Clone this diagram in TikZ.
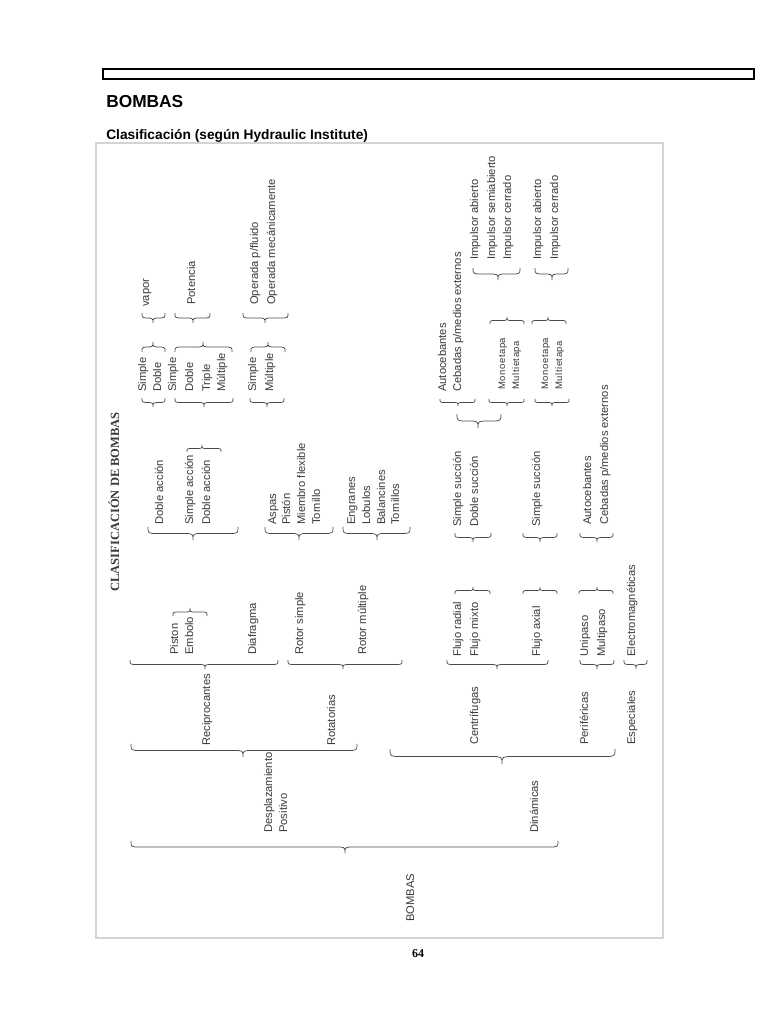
\documentclass[tikz,border=0pt]{standalone}
\usepackage{fontspec}
\setmainfont{Liberation Serif}
\newfontfamily\dfont{Liberation Sans}
\newfontfamily\dsfont[LetterSpace=6]{Liberation Sans}
\newfontfamily\hfont{Liberation Sans}
\newfontfamily\pfont{Liberation Serif}
\definecolor{txtgray}{HTML}{3A3A3A}
\definecolor{bracegray}{HTML}{4A4A4A}
\definecolor{framegray}{HTML}{D4D4D4}
\tikzset{
  lbl/.style={rotate=90, anchor=base west, inner sep=0pt, text=txtgray,
    font=\dfont\fontsize{8.4}{10}\selectfont},
  lbls/.style={lbl, font=\dsfont\fontsize{7.1}{9}\selectfont},
  brcline/.style={draw=bracegray, line width=0.55pt},
  head/.style={anchor=base west, inner sep=0pt, font=\hfont\bfseries\fontsize{13}{15}\selectfont},
  subhead/.style={anchor=base west, inner sep=0pt, font=\hfont\bfseries\fontsize{10.3}{12}\selectfont},
}
% brace: x1, x2, y of ends, x of cusp, y of cusp
\newcommand\brc[5]{%
  \pgfmathsetmacro\bR{0.7*abs(#5-#3)+1}%
  \pgfmathsetmacro\bM{(#3+#5)/2}%
  \draw[brcline] (#1,#3) .. controls (#1,\bM) .. ({#1+\bR},\bM) -- ({#4-\bR},\bM)
    .. controls (#4,\bM) .. (#4,#5) .. controls (#4,\bM) .. ({#4+\bR},\bM)
    -- ({#2-\bR},\bM) .. controls (#2,\bM) .. (#2,#3);}
\begin{document}
\begin{tikzpicture}[x=0.75pt,y=-0.75pt]
\useasboundingbox[fill=white] (0,0) rectangle (768,1024);
% page header
\draw[black, line width=0.8pt] (103,69) rectangle (754,79);
\node[head] (title) at (106,108) {BOMBAS};
\node[subhead] (sub) at (106,139) {Clasificación (según Hydraulic Institute)};
\draw[framegray, line width=0.8pt] (96,143) rectangle (663,938);
\node[anchor=base, inner sep=0pt, font=\pfont\bfseries\fontsize{9}{10}\selectfont] (pg) at (418,957) {64};
% rotated title
\node[rotate=90, anchor=base west, inner sep=0pt, text=txtgray,
  font=\pfont\bfseries\fontsize{9.4}{11}\selectfont] (ctitle) at (119,592) {CLASIFICACIÓN DE BOMBAS};
% level 0
\node[lbl] (t0) at (414,922) {BOMBAS};
% level 1
\node[lbl] (dp1) at (272,833) {Desplazamiento};
\node[lbl] (dp2) at (287,833) {Positivo};
\node[lbl] (din) at (538,833) {Dinámicas};
% level 2
\node[lbl] (rec) at (210,746) {Reciprocantes};
\node[lbl] (rot) at (335,746) {Rotatorias};
\node[lbl] (cen) at (478,745) {Centrífugas};
\node[lbl] (per) at (588,745) {Periféricas};
\node[lbl] (esp) at (635,745) {Especiales};
% level 3
\node[lbl] (pis) at (178,655) {Piston};
\node[lbl] (emb) at (193,655) {Embolo};
\node[lbl] (dia) at (256,655) {Diafragma};
\node[lbl] (rs) at (303,655) {Rotor simple};
\node[lbl] (rm) at (366,655) {Rotor múltiple};
\node[lbl] (fr) at (461,657) {Flujo radial};
\node[lbl] (fm) at (478,657) {Flujo mixto};
\node[lbl] (fa) at (540,657) {Flujo axial};
\node[lbl] (uni) at (588,657) {Unipaso};
\node[lbl] (mul) at (605,657) {Multipaso};
\node[lbl] (ele) at (635,657) {Electromagnéticas};
% level 4
\node[lbl] (da1) at (163,525) {Doble acción};
\node[lbl] (sa) at (193,525) {Simple acción};
\node[lbl] (da2) at (210,525) {Doble acción};
\node[lbl] (asp) at (276,525) {Aspas};
\node[lbl] (pi2) at (290,525) {Pistón};
\node[lbl] (mf) at (305,525) {Miembro flexible};
\node[lbl] (tor) at (320,525) {Tornillo};
\node[lbl] (eng) at (355,525) {Engranes};
\node[lbl] (lob) at (370,525) {Lobulos};
\node[lbl] (bal) at (385,525) {Balancines};
\node[lbl] (tors) at (399,525) {Tornillos};
\node[lbl] (ss1) at (461,527) {Simple succión};
\node[lbl] (ds) at (478,527) {Doble succión};
\node[lbl] (ss2) at (540,527) {Simple succión};
\node[lbl] (au2) at (591,525) {Autocebantes};
\node[lbl] (ce2) at (608,525) {Cebadas p/medios externos};
% level 5
\node[lbl] (s1) at (146,392) {Simple};
\node[lbl] (d1) at (161,392) {Doble};
\node[lbl] (s2) at (176,392) {Simple};
\node[lbl] (d2) at (193,392) {Doble};
\node[lbl] (tr) at (210,392) {Triple};
\node[lbl] (m2) at (225,392) {Múltiple};
\node[lbl] (s3) at (256,392) {Simple};
\node[lbl] (m3) at (273,392) {Múltiple};
\node[lbl] (au1) at (446,392) {Autocebantes};
\node[lbl] (ce1) at (461,392) {Cebadas p/medios externos};
\node[lbls] (mo1) at (505,390) {Monoetapa};
\node[lbls] (mu1) at (519,390) {Multietapa};
\node[lbls] (mo2) at (548,390) {Monoetapa};
\node[lbls] (mu2) at (562,390) {Multietapa};
% level 6
\node[lbl] (vap) at (149,307) {vapor};
\node[lbl] (pot) at (195,305) {Potencia};
\node[lbl] (op1) at (258,305) {Operada p/fluido};
\node[lbl] (op2) at (275,305) {Operada mecánicamente};
% level 7
\node[lbl] (ia1) at (478,260) {Impulsor abierto};
\node[lbl] (isa) at (495,260) {Impulsor semiabierto};
\node[lbl] (ic1) at (511,260) {Impulsor cerrado};
\node[lbl] (ia2) at (541,260) {Impulsor abierto};
\node[lbl] (ic2) at (558,260) {Impulsor cerrado};
% braces
\brc{131}{558}{841}{345}{853}
\brc{131}{357}{744}{243}{757}
\brc{390}{615}{749}{502}{764}
\brc{130}{278}{660}{205}{669}
\brc{288}{402}{660}{343}{669}
\brc{447}{548}{660}{497}{669}
\brc{580}{614}{660}{597}{669}
\brc{624}{647}{660}{636}{669}
\brc{173}{207}{616}{190}{608}
\brc{455}{490}{594}{473}{587}
\brc{523}{557}{594}{540}{587}
\brc{579}{613}{594}{597}{587}
\brc{148}{238}{527}{193}{540}
\brc{265}{333}{527}{299}{540}
\brc{343}{410}{527}{377}{540}
\brc{455}{491}{533}{473}{542}
\brc{523}{557}{533}{540}{542}
\brc{580}{613}{533}{597}{542}
\brc{187}{221}{452}{202}{445}
\brc{142}{165}{398}{153}{407}
\brc{175}{233}{398}{204}{407}
\brc{250}{284}{398}{267}{407}
\brc{440}{475}{399}{458}{406}
\brc{489}{524}{399}{507}{406}
\brc{535}{569}{399}{552}{406}
\brc{457}{501}{414}{478}{428}
\brc{142}{165}{352}{153}{342}
\brc{175}{232}{352}{203}{342}
\brc{251}{285}{352}{268}{342}
\brc{490}{524}{324}{507}{317}
\brc{532}{566}{324}{548}{317}
\brc{142}{165}{313}{153}{323}
\brc{175}{210}{313}{193}{323}
\brc{243}{288}{313}{265}{323}
\brc{473}{520}{268}{498}{280}
\brc{535}{568}{268}{552}{280}
\end{tikzpicture}
\end{document}
